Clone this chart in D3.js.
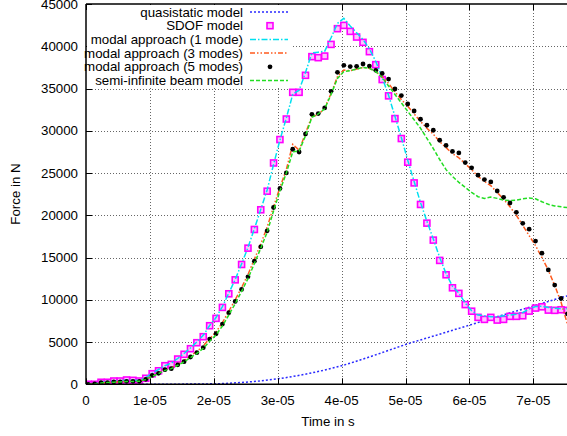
<!DOCTYPE html>
<html><head><meta charset="utf-8">
<script src="https://cdn.jsdelivr.net/npm/d3@7"></script>
<style>
body{margin:0;background:#fff}
svg{display:block}
text{font-family:"Liberation Sans",Arial,Helvetica,sans-serif;font-size:13.3px;fill:#000}
</style>
</head><body><svg id="c" width="567" height="436"></svg>
<script>
// time grid of the sampled series, in microseconds
const timeUs = [0.35,1.35,2.35,3.35,4.35,5.35,6.35,7.35,8.35,9.35,10.35,11.35,12.35,13.35,14.35,15.35,16.35,17.35,18.35,19.35,
20.35,21.35,22.35,23.35,24.35,25.35,26.35,27.35,28.35,29.35,30.35,31.35,32.35,33.35,34.35,35.35,36.35,37.35,38.35,39.35,
40.35,41.35,42.35,43.35,44.35,45.35,46.35,47.35,48.35,49.35,50.35,51.35,52.35,53.35,54.35,55.35,56.35,57.35,58.35,59.35,
60.35,61.35,62.35,63.35,64.35,65.35,66.35,67.35,68.35,69.35,70.35,71.35,72.35,73.35,74.35,75.35];

const quasiTimeUs = [0,5,10,15,20,25,30,35,40,45,50,55,60,65,70,75,76];
const quasistatic = [0,0,0,20,60,250,650,1300,2200,3400,4700,5850,7000,8150,9250,10400,10600];

const sdof = [0,0,240,240,390,390,510,470,390,710,1250,1600,2200,2360,2990,3550,4210,4920,5630,6930,
7800,9100,10710,12360,14180,16110,18320,20650,22850,26190,28960,31390,34550,34550,36560,38770,38650,38840,40220,42080,
42470,41760,41090,40460,39360,37820,36060,34130,31440,29080,26280,23830,21280,19070,17060,14660,12960,11420,10760,9430,
8650,7920,7680,7920,7600,7680,8040,8040,8110,8660,9020,9170,8780,8750,8820,8750];

const modal1 = [0,100,250,300,380,420,480,470,450,800,1300,1750,2200,2500,3050,3650,4300,5000,5800,6950,
7900,9200,10800,12400,14250,16200,18400,20700,23000,26000,28900,31500,34300,34800,36900,39200,39300,39400,41000,42700,
43300,42400,41600,40800,39700,38200,36300,34200,31700,29200,26500,24000,21500,19300,17200,15000,13100,11600,10800,9600,
8700,8200,8100,8000,8000,8100,8200,8300,8500,8900,9200,9250,9100,9000,8950,8950];

const modal3 = [0,60,180,220,270,300,340,360,380,600,1050,1350,1750,1950,2400,2800,3350,3900,4550,5400,
6200,7300,8650,10000,11450,13000,14800,16600,18600,21000,23300,25400,28400,27700,29700,31700,31900,32700,34400,36400,
37200,37100,37300,37500,37400,37000,36400,35600,34600,33700,32900,32000,31100,30300,29600,28700,28000,27300,26800,26100,
25400,24600,24000,23500,22700,21900,21000,20000,18800,17600,16400,15000,13500,11700,9700,7100];

const modal5 = [0,40,190,190,270,270,350,350,350,590,1050,1300,1730,1850,2300,2680,3230,3740,4330,5350,
5980,7130,8470,9810,11230,12720,14570,16270,18160,20920,23170,25010,27810,27490,29620,31950,32030,32700,34670,36910,
37740,37590,37620,37900,37660,37150,36780,36120,34940,34160,33170,32340,31360,30650,30060,28880,28270,27560,27380,26240,
25610,24740,24230,23950,22870,22120,21450,20350,19050,18360,16950,15520,13530,11740,10150,8340];

const semiInfinite = [0,30,150,200,250,280,320,340,360,550,950,1250,1650,1850,2250,2650,3150,3650,4250,5100,
5850,6900,8200,9550,11000,12500,14300,16100,18000,20500,22900,25000,27500,27600,29400,31600,32000,32600,34300,36200,
37000,37100,37300,37500,37400,37000,36300,35300,34300,33300,32300,31300,30300,29100,27900,26600,25400,24600,23900,23300,
22700,22200,22000,22150,22000,21800,21750,21800,21950,22050,21950,21600,21300,21100,21000,20900];

const xTicks = [0,1e-5,2e-5,3e-5,4e-5,5e-5,6e-5,7e-5];
const xTickLabels = ["0","1e-05","2e-05","3e-05","4e-05","5e-05","6e-05","7e-05"];
const yTicks = [0,5000,10000,15000,20000,25000,30000,35000,40000,45000];
const yTickLabels = ["0","5000","10000","15000","20000","25000","30000","35000","40000","45000"];
const legendLabels = ["quasistatic model","SDOF model","modal approach (1 mode)","modal approach (3 modes)","modal approach (5 modes)","semi-infinite beam model"];
const xTitle = "Time in s";
const yTitle = "Force in N";

const svg = d3.select("#c");
const L = 86, T = 4, B = 384.3;
const x = d3.scaleLinear().domain([0, 7.6e-5]).range([L, L + 63.9 * 7.6]);
const y = d3.scaleLinear().domain([0, 45000]).range([B, T]);

svg.append("rect").attr("width",567).attr("height",436).attr("fill","#fff");

svg.append("defs").append("clipPath").attr("id","clip")
  .append("rect").attr("x",L).attr("y",T).attr("width",x.range()[1]-L).attr("height",B-T);

// grid
const grid = svg.append("g").attr("stroke","#666").attr("stroke-width",1).attr("stroke-dasharray","1,2");
xTicks.slice(1).forEach(v => grid.append("line").attr("x1",Math.round(x(v))+0.5).attr("x2",Math.round(x(v))+0.5).attr("y1",T).attr("y2",B));
yTicks.slice(1,-1).forEach(v => grid.append("line").attr("y1",Math.round(y(v))+0.5).attr("y2",Math.round(y(v))+0.5).attr("x1",L).attr("x2",x.range()[1]));

const plot = svg.append("g").attr("clip-path","url(#clip)");
const t = d => d * 1e-6;
const lineGen = (ts, vs) => d3.line().x((d,i)=>x(t(ts[i]))).y(d=>y(d))(vs);

// quasistatic
plot.append("path").attr("d", d3.line().curve(d3.curveMonotoneX).x((d,i)=>x(t(quasiTimeUs[i]))).y(d=>y(d))(quasistatic))
  .attr("fill","none").attr("stroke","#2a2aff").attr("stroke-width",1.5).attr("stroke-dasharray","2,2");
// SDOF squares
plot.append("g").selectAll("rect").data(sdof).join("rect")
  .attr("x",(d,i)=>x(t(timeUs[i]))-3).attr("y",d=>y(d)-3).attr("width",6).attr("height",6)
  .attr("fill","#ffc0ff").attr("stroke","#ff00ff").attr("stroke-width",1.6);
// modal 1
plot.append("path").attr("d", lineGen(timeUs, modal1))
  .attr("fill","none").attr("stroke","#00e0f0").attr("stroke-width",1.5).attr("stroke-dasharray","6,2,1.5,2");
// modal 3
plot.append("path").attr("d", lineGen(timeUs, modal3))
  .attr("fill","none").attr("stroke","#ff5a1e").attr("stroke-width",1.5).attr("stroke-dasharray","5,2,1.5,2,1.5,2");
// modal 5 dots
plot.append("g").selectAll("circle").data(modal5).join("circle")
  .attr("cx",(d,i)=>x(t(timeUs[i]))).attr("cy",d=>y(d)).attr("r",2.4).attr("fill","#000");
// semi-infinite
plot.append("path").attr("d", lineGen(timeUs, semiInfinite))
  .attr("fill","none").attr("stroke","#22dd22").attr("stroke-width",1.5).attr("stroke-dasharray","4,2");

// border
const bd = svg.append("g").attr("stroke","#000").attr("stroke-width",1.5).attr("fill","none");
bd.append("line").attr("x1",L).attr("x2",L).attr("y1",T).attr("y2",B);
bd.append("line").attr("x1",L).attr("x2",x.range()[1]).attr("y1",B).attr("y2",B);
bd.append("line").attr("x1",L).attr("x2",x.range()[1]).attr("y1",T).attr("y2",T);
const tk = svg.append("g").attr("stroke","#000").attr("stroke-width",1);
xTicks.forEach(v => {
  const px = Math.round(x(v))+0.5;
  tk.append("line").attr("x1",px).attr("x2",px).attr("y1",B).attr("y2",B-6);
  tk.append("line").attr("x1",px).attr("x2",px).attr("y1",T).attr("y2",T+6);
});
yTicks.forEach(v => {
  const py = Math.round(y(v))+0.5;
  tk.append("line").attr("x1",L).attr("x2",L+6).attr("y1",py).attr("y2",py);
});

// tick labels
svg.append("g").selectAll("text").data(xTicks).join("text")
  .attr("x",d=>x(d)).attr("y",400).attr("dy","0.35em").attr("text-anchor","middle").text((d,i)=>xTickLabels[i]);
svg.append("g").selectAll("text").data(yTicks).join("text")
  .attr("x",78).attr("y",d=>y(d)).attr("dy","0.35em").attr("text-anchor","end").text((d,i)=>yTickLabels[i]);

svg.append("text").attr("x",328).attr("y",421).attr("dy","0.35em").attr("text-anchor","middle").text(xTitle);
svg.append("text").attr("transform","translate(15,194) rotate(-90)").attr("dy","0.35em").attr("text-anchor","middle").text(yTitle);

// legend (opaque)
svg.append("rect").attr("x",L+1).attr("y",T+1).attr("width",205).attr("height",82).attr("fill","#fff");
const lg = svg.append("g");
const rowY = i => 12 + i*13.7;
legendLabels.forEach((lab,i) => {
  lg.append("text").attr("x",243).attr("y",rowY(i)).attr("dy","0.35em").attr("text-anchor","end").text(lab);
});
const sx1 = 250, sx2 = 288, sc = 270;
lg.append("line").attr("x1",sx1).attr("x2",sx2).attr("y1",rowY(0)).attr("y2",rowY(0))
  .attr("stroke","#2a2aff").attr("stroke-width",1.5).attr("stroke-dasharray","2,2");
lg.append("rect").attr("x",sc-3).attr("y",rowY(1)-3).attr("width",6).attr("height",6)
  .attr("fill","#ffc0ff").attr("stroke","#ff00ff").attr("stroke-width",1.6);
lg.append("line").attr("x1",sx1).attr("x2",sx2).attr("y1",rowY(2)).attr("y2",rowY(2))
  .attr("stroke","#00e0f0").attr("stroke-width",1.5).attr("stroke-dasharray","6,2,1.5,2");
lg.append("line").attr("x1",sx1).attr("x2",sx2).attr("y1",rowY(3)).attr("y2",rowY(3))
  .attr("stroke","#ff5a1e").attr("stroke-width",1.5).attr("stroke-dasharray","5,2,1.5,2,1.5,2");
lg.append("circle").attr("cx",sc).attr("cy",rowY(4)).attr("r",2.4).attr("fill","#000");
lg.append("line").attr("x1",sx1).attr("x2",sx2).attr("y1",rowY(5)).attr("y2",rowY(5))
  .attr("stroke","#22dd22").attr("stroke-width",1.5).attr("stroke-dasharray","4,2");
</script>
</body></html>
